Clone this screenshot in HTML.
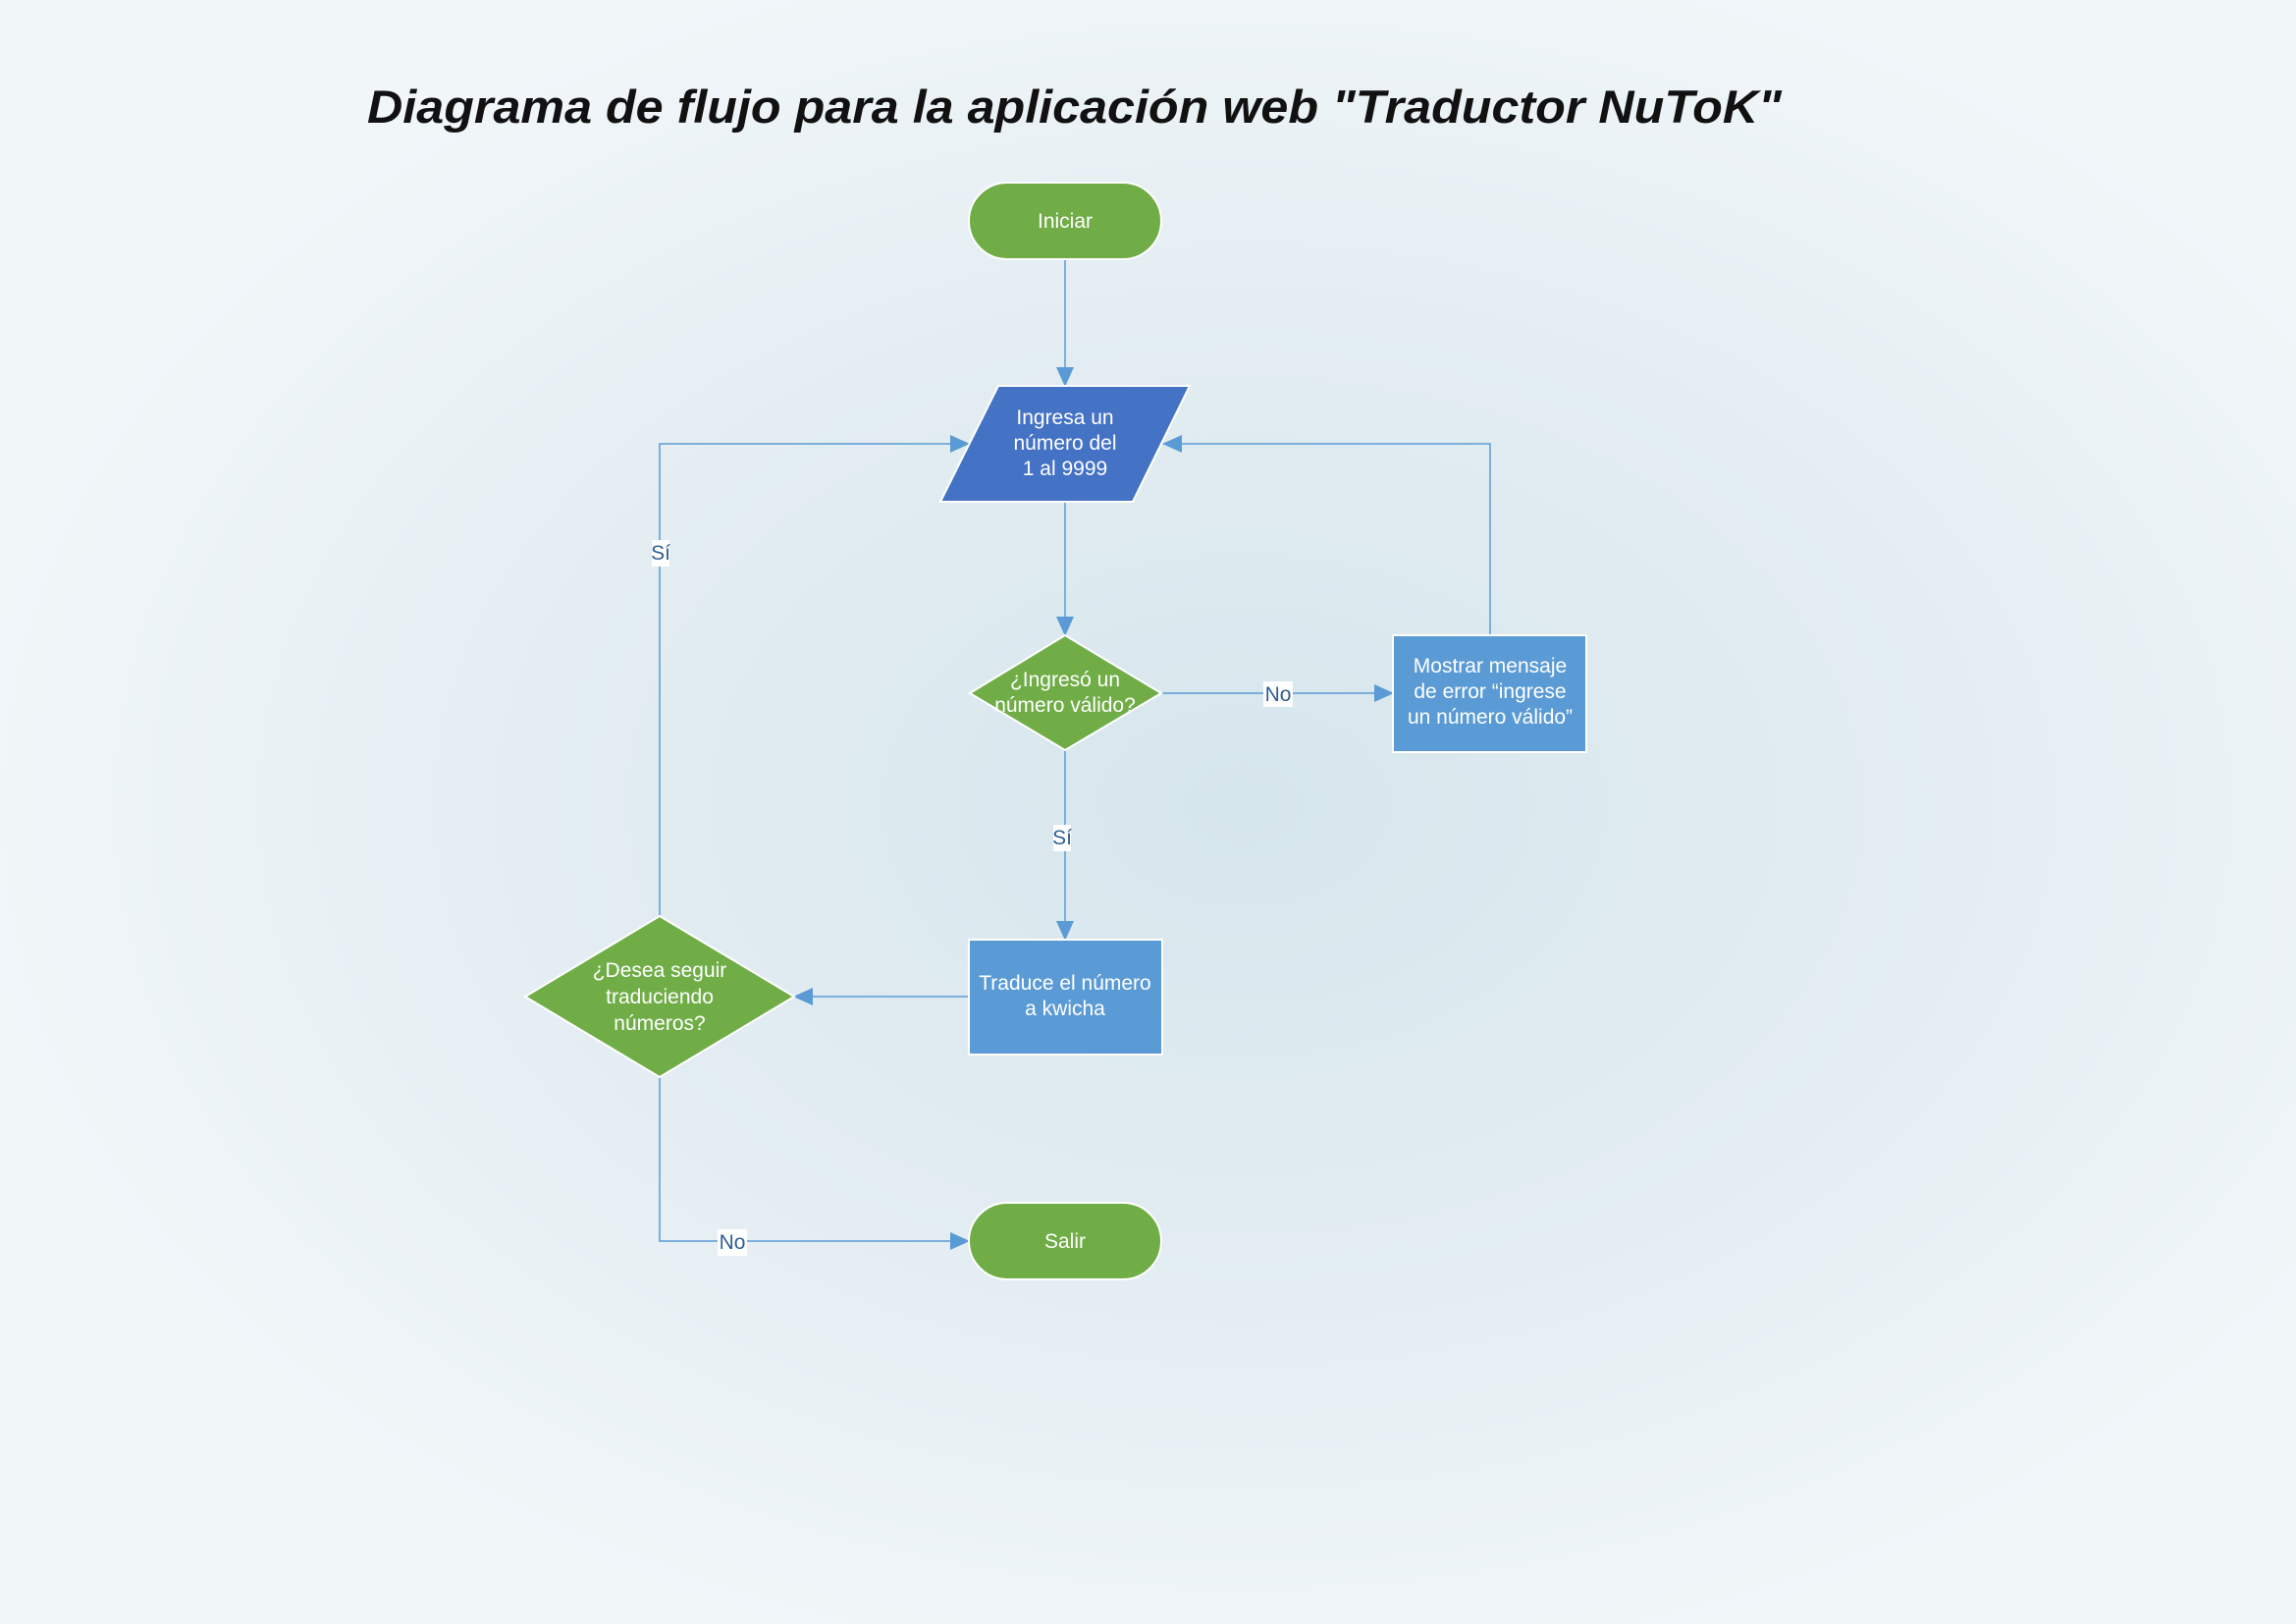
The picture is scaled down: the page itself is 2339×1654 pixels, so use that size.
<!DOCTYPE html>
<html><head><meta charset="utf-8"><style>
html,body{margin:0;padding:0;}
body{width:2339px;height:1654px;overflow:hidden;background:radial-gradient(ellipse 1300px 900px at 1268px 820px,#d6e6ed 0%,#e3edf2 55%,#f1f6f9 100%);}
svg{position:absolute;left:0;top:0;}
.t{font-family:"Liberation Sans",sans-serif;font-size:21px;fill:#fff;text-anchor:middle;}
.l{font-family:"Liberation Sans",sans-serif;font-size:21px;fill:#2f5f8f;text-anchor:middle;}
</style></head><body>
<svg width="2339" height="1654" viewBox="0 0 2339 1654">
<defs><marker id="a" markerWidth="20" markerHeight="18" refX="19" refY="9" orient="auto" markerUnits="userSpaceOnUse"><path d="M0,0 L20,9 L0,18 Z" fill="#5b9bd5"/></marker></defs>
<text x="374" y="125" font-family="Liberation Sans,sans-serif" font-size="47" font-weight="bold" font-style="italic" fill="#111" textLength="1441" lengthAdjust="spacingAndGlyphs">Diagrama de flujo para la aplicación web "Traductor NuToK"</text>
<g stroke="#5b9bd5" stroke-width="1.5" fill="none">
<line x1="1085" y1="264" x2="1085" y2="393" marker-end="url(#a)"/>
<line x1="1085" y1="511" x2="1085" y2="647" marker-end="url(#a)"/>
<line x1="1183" y1="706" x2="1419" y2="706" marker-end="url(#a)"/>
<polyline points="1518,647 1518,452 1185,452" marker-end="url(#a)"/>
<line x1="1085" y1="764" x2="1085" y2="957" marker-end="url(#a)"/>
<line x1="987" y1="1015" x2="809" y2="1015" marker-end="url(#a)"/>
<polyline points="672,933 672,452 987,452" marker-end="url(#a)"/>
<polyline points="672,1097 672,1264 987,1264" marker-end="url(#a)"/>
</g>
<g stroke="#fff" stroke-width="2">
<rect x="987" y="186" width="196" height="78" rx="39" fill="#70ad47"/>
<polygon points="1017,393 1212,393 1154,511 958,511" fill="#4472c4"/>
<polygon points="1085,647 1183,706 1085,764 988,706" fill="#70ad47"/>
<rect x="1419" y="647" width="197" height="119" fill="#5b9bd5"/>
<rect x="987" y="957" width="197" height="117" fill="#5b9bd5"/>
<polygon points="672,933 809,1015 672,1097 535,1015" fill="#70ad47"/>
<rect x="987" y="1225" width="196" height="78" rx="39" fill="#70ad47"/>
</g>
<text class="t" x="1085" y="232">Iniciar</text>
<text class="t" x="1085" y="432">Ingresa un</text>
<text class="t" x="1085" y="458">número del</text>
<text class="t" x="1085" y="484">1 al 9999</text>
<text class="t" x="1085" y="699">¿Ingresó un</text>
<text class="t" x="1085" y="725">número válido?</text>
<text class="t" x="1518" y="685">Mostrar mensaje</text>
<text class="t" x="1518" y="711">de error “ingrese</text>
<text class="t" x="1518" y="737">un número válido”</text>
<text class="t" x="1085" y="1008">Traduce el número</text>
<text class="t" x="1085" y="1034">a kwicha</text>
<text class="t" x="672" y="995">¿Desea seguir</text>
<text class="t" x="672" y="1022">traduciendo</text>
<text class="t" x="672" y="1049">números?</text>
<text class="t" x="1085" y="1271">Salir</text>
<rect x="1287" y="694" width="30" height="26" fill="#fff"/><text class="l" x="1302" y="714">No</text>
<rect x="664" y="550" width="18" height="27" fill="#fff"/><text class="l" x="673" y="570">Sí</text>
<rect x="1073" y="840" width="18" height="27" fill="#fff"/><text class="l" x="1082" y="860">Sí</text>
<rect x="731" y="1252" width="30" height="27" fill="#fff"/><text class="l" x="746" y="1272">No</text>
</svg>
</body></html>
